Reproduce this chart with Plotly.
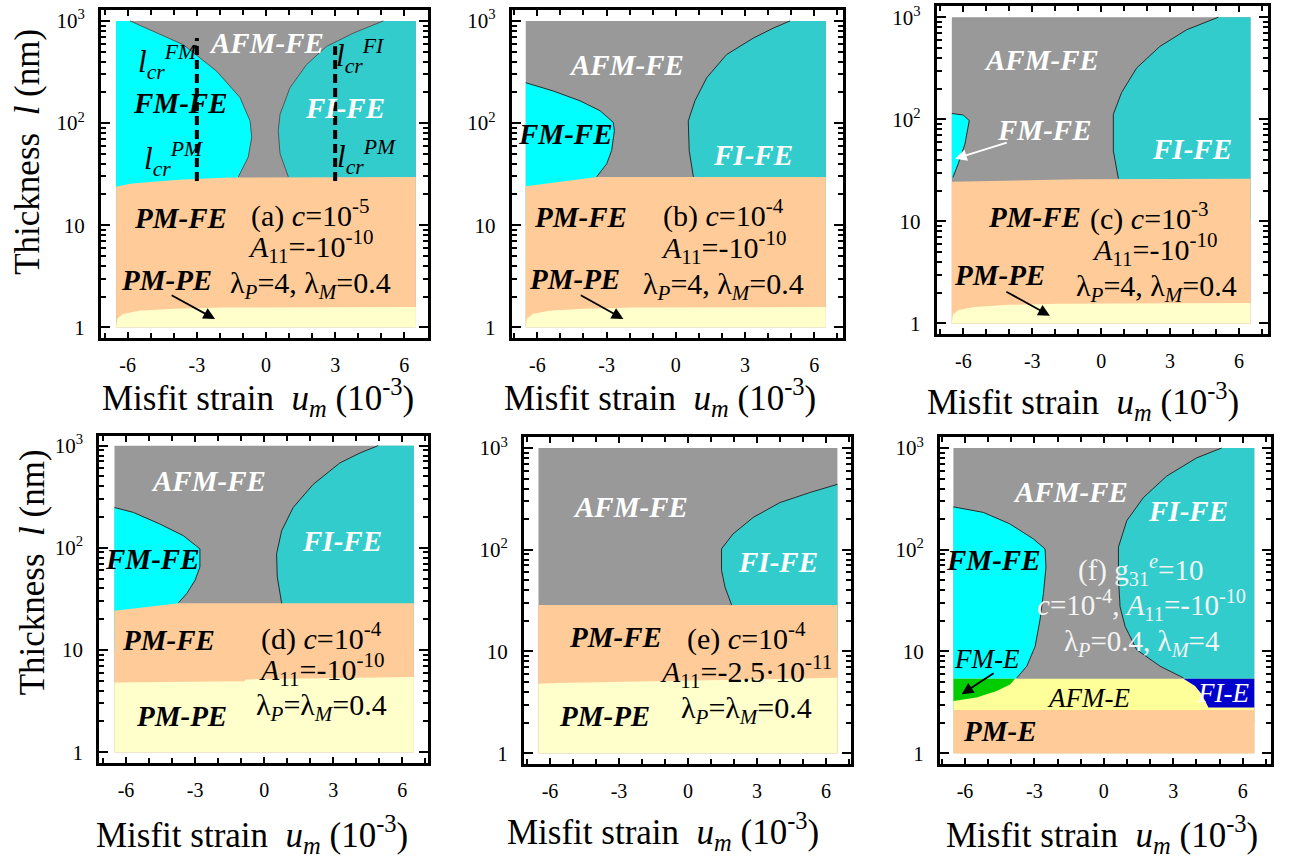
import plotly.graph_objects as go

W, H = 1295, 859
FONT = "Times New Roman, Liberation Serif, serif"

# ---------------- colours of the phases ----------------
C_AFM_FE = "#999999"
C_FM_FE = "#00FFFF"
C_FI_FE = "#33CCCC"
C_PM_FE = "#FFCC99"
C_PM_PE = "#FFFFCC"
C_FM_E = "#00CC00"
C_AFM_E = "#FFFF99"
C_FI_E = "#0000CC"
C_PM_E = "#FFCC99"
C_BOUND = "#2a2a2a"

# ---------------- data extent / ticks ----------------
UM_MIN, UM_MAX = -6.5, 6.5      # misfit strain range of the calculation (1e-3)
L_MIN, L_MAX = 1, 1000          # thickness range (nm)

x_tickvals = [-6, -3, 0, 3, 6]
x_ticktext = ["-6", "-3", "0", "3", "6"]
x_minorvals = [-7, -6, -5, -4, -3, -2, -1, 0, 1, 2, 3, 4, 5, 6, 7]
y_tickvals = [1, 10, 100, 1000]
y_ticktext = ["1", "10", "10<sup>2</sup>", "10<sup>3</sup>"]
y_minorvals = [2, 3, 4, 5, 6, 7, 8, 9, 20, 30, 40, 50, 60, 70, 80, 90,
               200, 300, 400, 500, 600, 700, 800, 900]

# ---------------- panel (a) ----------------
a_fm_um = [-5.9, -4.73, -3.59, -2.14, -1.13, -0.69, -0.62, -0.77, -1.2]
a_fm_l = [1000, 759, 585, 322, 178, 105, 72.6, 46.4, 29.7]
a_fi_um = [5.09, 3.79, 2.63, 1.76, 1.04, 0.61, 0.53, 0.61, 0.97]
a_fi_l = [1000, 759, 563, 374, 222, 122, 84, 50, 29.7]
a_fe_um = [-6.5, -5.9, -4.9, -3.6, -2.1, -1.5, 6.5]
a_fe_l = [23.8, 25.4, 26.6, 28.0, 29.0, 29.3, 29.7]
a_pe_um = [-6.5, -6.45, -6.2, -5.5, -4.0, -1.8, 6.5]
a_pe_l = [1.0, 1.22, 1.35, 1.45, 1.52, 1.56, 1.58]
a_lcr_um = [-3, 3]
a_lcr_lo = [27, 27]
a_lcr_hi = [680, 563]

# ---------------- panel (b) ----------------
b_fm_um = [-6.5, -5.31, -4.15, -3.28, -2.71, -2.66, -2.78, -2.99, -3.43]
b_fm_l = [248, 206, 165, 132, 101.6, 84, 53.8, 40, 29.7]
b_fi_um = [4.95, 4.22, 3.36, 2.2, 1.34, 0.83, 0.54, 0.58, 0.76]
b_fi_l = [1000, 849, 679, 468, 278, 165, 105, 53.8, 29.7]
b_fe_um = [-6.5, -5.3, -4.15, -3.4, 6.5]
b_fe_l = [24.0, 26.0, 28.0, 29.7, 29.7]
b_pe_um = [-6.5, -6.45, -6.2, -5.5, -4.0, -1.8, 6.5]
b_pe_l = [1.0, 1.22, 1.35, 1.45, 1.52, 1.56, 1.58]

# ---------------- panel (c) ----------------
c_fm_um = [-6.5, -6.0, -5.74, -5.93, -6.22, -6.45, -6.5]
c_fm_l = [114, 110, 97, 57, 36.7, 27, 26]
c_fi_um = [5.1, 3.72, 2.56, 1.55, 0.89, 0.53, 0.53, 0.75]
c_fi_l = [1000, 753, 518, 319, 183, 112, 49, 26.2]
c_fe_um = [-6.5, -4.0, -1.0, 6.5]
c_fe_l = [24.4, 25.0, 25.8, 26.2]
c_pe_um = [-6.5, -6.45, -6.2, -5.5, -4.0, -1.8, 6.5]
c_pe_l = [1.0, 1.22, 1.35, 1.45, 1.52, 1.56, 1.58]

# ---------------- panel (d) ----------------
d_fm_um = [-6.5, -5.68, -4.53, -3.51, -2.79, -2.79, -3.0, -3.36, -3.72]
d_fm_l = [248, 222, 171, 131.5, 97.7, 64.9, 48.2, 35.7, 29]
d_fi_um = [4.95, 4.16, 3.29, 2.13, 1.26, 0.76, 0.54, 0.57, 0.76]
d_fi_l = [1000, 847, 678, 418, 248, 147, 87.5, 51.9, 28.6]
d_fe_um = [-6.5, -3.7, 6.5]
d_fe_l = [24.2, 28.6, 28.6]
d_pe_um = [-6.5, -0.85, -0.8, 6.5]
d_pe_l = [4.8, 4.95, 5.15, 5.45]

# ---------------- panel (e) ----------------
e_fi_um = [6.5, 5.3, 4.0, 2.84, 1.96, 1.46, 1.46, 1.61, 1.9]
e_fi_l = [440, 365, 291, 208, 143, 102, 63, 43, 28.6]
e_fe_um = [-6.5, 6.5]
e_fe_l = [28.6, 28.6]
e_pe_um = [-6.5, -5.65, 6.5]
e_pe_l = [4.82, 4.9, 5.5]

# ---------------- panel (f) ----------------
f_fm_um = [-6.5, -5.21, -4.07, -3.05, -2.54, -2.5, -2.61, -2.76, -2.97, -3.33, -3.76]
f_fm_l = [264, 233, 180, 128, 102, 67.6, 37.2, 20.4, 11.2, 7.16, 5.5]
f_fi_um = [5.09, 4.01, 2.72, 1.71, 0.99, 0.63, 0.63, 0.70, 0.92, 1.42, 2.43, 3.44]
f_fi_l = [1000, 800, 531, 326, 193, 106, 54, 27.5, 17.6, 10.4, 7.16, 5.5]
f_e_um = [-6.5, 6.5]
f_e_l = [5.4, 5.4]
f_pme_um = [-6.5, 6.5]
f_pme_l = [2.66, 2.66]
f_fme_um = [-3.84, -4.05, -4.63, -5.5, -6.5]
f_fme_l = [5.4, 4.74, 4.08, 3.52, 3.26]
f_fie_um = [3.44, 3.94, 4.23, 4.45, 4.52, 6.5]
f_fie_l = [5.4, 4.57, 3.79, 3.03, 2.81, 2.81]

# ---------------- layout of the six panels (pixels) ----------------
panels = [
    dict(L=101, R=428.3, T=5, B=336, xr=[-7.158, 7.041], yr=[-0.107, 3.107]),
    dict(L=511.7, R=842.7, T=5, B=336, xr=[-7.109, 7.230], yr=[-0.107, 3.107]),
    dict(L=936.7, R=1267.7, T=1.5, B=331.7, xr=[-7.158, 7.249], yr=[-0.104, 3.105]),
    dict(L=99.3, R=428.3, T=435, B=764.3, xr=[-7.16, 7.129], yr=[-0.107, 3.09]),
    dict(L=524, R=851, T=435.7, B=765.7, xr=[-7.13, 7.09], yr=[-0.111, 3.107]),
    dict(L=940, R=1270.7, T=435.7, B=765.7, xr=[-7.08, 7.21], yr=[-0.111, 3.107]),
]

fig = go.Figure()


def ax_ids(i):
    return ("x" if i == 0 else f"x{i+1}"), ("y" if i == 0 else f"y{i+1}")


def poly(i, xs, ys, color):
    xa, ya = ax_ids(i)
    fig.add_trace(go.Scatter(x=xs, y=ys, fill="toself", fillcolor=color, mode="lines",
                             line=dict(width=0, color=color), hoverinfo="skip",
                             showlegend=False, xaxis=xa, yaxis=ya))


def curve(i, xs, ys, color=C_BOUND, width=1.0, dash=None):
    xa, ya = ax_ids(i)
    fig.add_trace(go.Scatter(x=xs, y=ys, mode="lines",
                             line=dict(width=width, color=color, dash=dash),
                             hoverinfo="skip", showlegend=False, xaxis=xa, yaxis=ya))


def full_rect(i, color, top=L_MAX):
    poly(i, [UM_MIN, UM_MAX, UM_MAX, UM_MIN], [L_MIN, L_MIN, top, top], color)


def left_region(i, cx, cy, color, bottom=10):
    poly(i, [UM_MIN] + cx + [cx[-1], UM_MIN], [cy[0]] + cy + [bottom, bottom], color)


def right_region(i, cx, cy, color, bottom=10):
    poly(i, [UM_MAX] + cx + [cx[-1], UM_MAX], [cy[0]] + cy + [bottom, bottom], color)


def below(i, bx, by, color):
    poly(i, bx + [UM_MAX, UM_MIN], by + [L_MIN, L_MIN], color)


# (a)
full_rect(0, C_AFM_FE)
left_region(0, a_fm_um, a_fm_l, C_FM_FE)
right_region(0, a_fi_um, a_fi_l, C_FI_FE)
below(0, a_fe_um, a_fe_l, C_PM_FE)
below(0, a_pe_um, a_pe_l, C_PM_PE)
curve(0, a_fm_um, a_fm_l, "#555555")
curve(0, a_fi_um, a_fi_l, "#555555")
for k in range(len(a_lcr_um)):
    curve(0, [a_lcr_um[k], a_lcr_um[k]], [a_lcr_lo[k], a_lcr_hi[k]], "black", 4, "9px,5px")

# (b)
full_rect(1, C_AFM_FE)
left_region(1, b_fm_um, b_fm_l, C_FM_FE)
right_region(1, b_fi_um, b_fi_l, C_FI_FE)
below(1, b_fe_um, b_fe_l, C_PM_FE)
below(1, b_pe_um, b_pe_l, C_PM_PE)
curve(1, b_fm_um, b_fm_l)
curve(1, b_fi_um, b_fi_l)

# (c)
full_rect(2, C_AFM_FE)
poly(2, c_fm_um, c_fm_l, C_FM_FE)
right_region(2, c_fi_um, c_fi_l, C_FI_FE)
below(2, c_fe_um, c_fe_l, C_PM_FE)
below(2, c_pe_um, c_pe_l, C_PM_PE)
curve(2, c_fm_um[:-1], c_fm_l[:-1])
curve(2, c_fi_um, c_fi_l)

# (d)
full_rect(3, C_AFM_FE)
left_region(3, d_fm_um, d_fm_l, C_FM_FE)
right_region(3, d_fi_um, d_fi_l, C_FI_FE)
below(3, d_fe_um, d_fe_l, C_PM_FE)
below(3, d_pe_um, d_pe_l, C_PM_PE)
curve(3, d_fm_um, d_fm_l)
curve(3, d_fi_um, d_fi_l)

# (e)
full_rect(4, C_AFM_FE)
right_region(4, e_fi_um, e_fi_l, C_FI_FE)
below(4, e_fe_um, e_fe_l, C_PM_FE)
below(4, e_pe_um, e_pe_l, C_PM_PE)
curve(4, e_fi_um, e_fi_l)

# (f)
full_rect(5, C_AFM_FE)
left_region(5, f_fm_um, f_fm_l, C_FM_FE, bottom=2)
right_region(5, f_fi_um, f_fi_l, C_FI_FE, bottom=2)
below(5, f_e_um, f_e_l, C_AFM_E)
below(5, f_pme_um, f_pme_l, C_PM_E)
poly(5, [UM_MIN] + f_fme_um, [f_fme_l[0]] + f_fme_l, C_FM_E)
poly(5, f_fie_um + [UM_MAX], f_fie_l + [f_fie_l[0]], C_FI_E)
curve(5, f_fm_um, f_fm_l)
curve(5, f_fi_um, f_fi_l)

# ---------------- axes ----------------
layout = dict(width=W, height=H, margin=dict(l=0, r=0, t=0, b=0),
              paper_bgcolor="white", plot_bgcolor="white", showlegend=False,
              font=dict(family=FONT, color="black"))
for i, p in enumerate(panels):
    xk = "xaxis" if i == 0 else f"xaxis{i+1}"
    yk = "yaxis" if i == 0 else f"yaxis{i+1}"
    xa, ya = ax_ids(i)
    layout[xk] = dict(domain=[p["L"] / W, p["R"] / W], anchor=ya, range=p["xr"],
                      showgrid=False, zeroline=False, showline=True, linewidth=3,
                      linecolor="black", mirror="ticks", ticks="inside", ticklen=6,
                      tickwidth=2, tickcolor="black", tickmode="array",
                      tickvals=x_tickvals, ticktext=x_ticktext, ticklabelstandoff=7,
                      tickfont=dict(family=FONT, size=20, color="black"),
                      minor=dict(tickmode="array", tickvals=x_minorvals, ticks="inside",
                                 ticklen=5, tickwidth=1.5, tickcolor="black", showgrid=False),
                      fixedrange=True)
    layout[yk] = dict(domain=[1 - p["B"] / H, 1 - p["T"] / H], anchor=xa, type="log",
                      range=p["yr"], showgrid=False, zeroline=False, showline=True,
                      linewidth=3, linecolor="black", mirror="ticks", ticks="inside",
                      ticklen=9, tickwidth=2, tickcolor="black", tickmode="array",
                      tickvals=y_tickvals, ticktext=y_ticktext, ticklabelstandoff=9,
                      tickfont=dict(family=FONT, size=21, color="black"),
                      minor=dict(tickmode="array", tickvals=y_minorvals, ticks="inside",
                                 ticklen=5, tickwidth=1.5, tickcolor="black", showgrid=False),
                      fixedrange=True)
fig.update_layout(**layout)

# ---------------- texts ----------------
ann = []
SZ_PH = 29     # phase labels
SZ_PAR = 30    # parameter text


def bi(s):
    return f"<b><i>{s}</i></b>"


def txt(i, x, ylog, text, color="black", size=SZ_PAR):
    xa, ya = ax_ids(i)
    ann.append(dict(x=x, y=ylog, xref=xa, yref=ya, text=text, showarrow=False,
                    xanchor="center", yanchor="middle",
                    font=dict(family=FONT, size=size, color=color)))


def ph(i, x, ylog, text, color="black"):
    txt(i, x, ylog, bi(text), color, SZ_PH)


def arrow(i, x0, y0, x1, y1, color="black"):
    xa, ya = ax_ids(i)
    ann.append(dict(x=x1, y=y1, ax=x0, ay=y0, xref=xa, yref=ya, axref=xa, ayref=ya,
                    text="", showarrow=True, arrowhead=2, arrowsize=1.3,
                    arrowwidth=1.8, arrowcolor=color))


WH = "white"
A11 = "<i>A</i><sub>11</sub>=-10<sup>-10</sup>"
LAM_A = "λ<sub><i>P</i></sub>=4, λ<sub><i>M</i></sub>=0.4"
LAM_D = "λ<sub><i>P</i></sub>=λ<sub><i>M</i></sub>=0.4"

# (a)
ph(0, 0.03, 2.78, "AFM-FE", WH)
ph(0, -3.73, 2.194, "FM-FE")
ph(0, 3.43, 2.146, "FI-FE", WH)
ph(0, -3.73, 1.068, "PM-FE")
ph(0, -4.31, 0.459, "PM-PE")
txt(0, 1.94, 1.117, "(a) <i>c</i>=10<sup>-5</sup>")
txt(0, 1.92, 0.793, A11)
txt(0, 1.92, 0.41, LAM_A)
txt(0, -4.24, 2.6, "<i>l</i><sub><i>cr</i></sub><sup><i>FM</i></sup>", size=31)
txt(0, -4.01, 1.644, "<i>l</i><sub><i>cr</i></sub><sup><i>PM</i></sup>", size=31)
txt(0, 4.11, 2.653, "<i>l</i><sub><i>cr</i></sub><sup><i>FI</i></sup>", size=31)
txt(0, 4.4, 1.667, "<i>l</i><sub><i>cr</i></sub><sup><i>PM</i></sup>", size=31)
arrow(0, -4.16, 0.323, -2.21, 0.081)

# (b)
ph(1, -2.13, 2.573, "AFM-FE", WH)
ph(1, -4.8, 1.893, "FM-FE")
ph(1, 3.36, 1.683, "FI-FE", WH)
ph(1, -4.15, 1.084, "PM-FE")
ph(1, -4.37, 0.469, "PM-PE")
txt(1, 2.06, 1.11, "(b) <i>c</i>=10<sup>-4</sup>")
txt(1, 2.06, 0.785, A11)
txt(1, 2.06, 0.405, LAM_A)
arrow(1, -4.18, 0.323, -2.27, 0.081)

# (c)
ph(2, -2.59, 2.585, "AFM-FE", WH)
ph(2, -2.5, 1.895, "FM-FE", WH)
ph(2, 3.94, 1.71, "FI-FE", WH)
ph(2, -2.88, 1.047, "PM-FE")
ph(2, -4.41, 0.47, "PM-PE")
txt(2, 2.12, 1.047, "(c) <i>c</i>=10<sup>-3</sup>")
txt(2, 2.33, 0.722, A11)
txt(2, 2.4, 0.35, LAM_A)
arrow(2, -4.04, 1.776, -6.36, 1.613, WH)
arrow(2, -4.19, 0.318, -2.23, 0.075)

# (d)
ph(3, -2.43, 2.653, "AFM-FE", WH)
ph(3, -4.88, 1.893, "FM-FE")
ph(3, 3.37, 2.071, "FI-FE", WH)
ph(3, -4.16, 1.1, "PM-FE")
ph(3, -3.58, 0.356, "PM-PE")
txt(3, 2.5, 1.132, "(d) <i>c</i>=10<sup>-4</sup>")
txt(3, 2.48, 0.809, A11)
txt(3, 2.5, 0.437, LAM_D)

# (e)
ph(4, -2.52, 2.422, "AFM-FE", WH)
ph(4, 3.93, 1.879, "FI-FE", WH)
ph(4, -3.17, 1.147, "PM-FE")
ph(4, -3.62, 0.367, "PM-PE")
txt(4, 2.55, 1.147, "(e) <i>c</i>=10<sup>-4</sup>")
txt(4, 2.54, 0.806, "<i>A</i><sub>11</sub>=-2.5·10<sup>-11</sup>")
txt(4, 2.55, 0.426, LAM_D)

# (f)
PAR = "#F4F4F4"
ph(5, -1.46, 2.572, "AFM-FE", WH)
ph(5, 3.65, 2.383, "FI-FE", WH)
ph(5, -4.78, 1.896, "FM-FE")
ph(5, -4.49, 0.221, "PM-E")
txt(5, -5.06, 0.927, "<i>FM-E</i>", size=27)
txt(5, -0.67, 0.546, "<i>AFM-E</i>", size=27)
txt(5, 5.16, 0.588, "<i>FI-E</i>", WH, size=27)
txt(5, 1.59, 1.80, "(f) g<sub>31</sub><sup><i>e</i></sup>=10", PAR, size=29)
txt(5, 1.63, 1.457, "<i>c</i>=10<sup>-4</sup>, <i>A</i><sub>11</sub>=-10<sup>-10</sup>", PAR, size=29)
txt(5, 1.63, 1.085, "λ<sub><i>P</i></sub>=0.4, λ<sub><i>M</i></sub>=4", PAR, size=29)
arrow(5, -4.7, 0.796, -6.14, 0.579)

# axis titles (paper coordinates from pixel centres)
XT = "Misfit strain\u00a0\u00a0<i>u<sub>m</sub></i> (10<sup>-3</sup>)"
YT = "Thickness\u00a0\u00a0<i>l</i> (nm)"
for (cx, cy) in [(258, 396), (660, 396), (1083, 400), (252, 836), (663, 833), (1102, 836)]:
    ann.append(dict(x=cx / W, y=1 - cy / H, xref="paper", yref="paper", text=XT,
                    showarrow=False, xanchor="center", yanchor="middle",
                    font=dict(family=FONT, size=35, color="black")))
for (cx, cy) in [(28, 148), (32, 572)]:
    ann.append(dict(x=cx / W, y=1 - cy / H, xref="paper", yref="paper", text=YT,
                    showarrow=False, xanchor="center", yanchor="middle", textangle=-90,
                    font=dict(family=FONT, size=35, color="black")))

fig.update_layout(annotations=ann)
fig.write_html("out.html")
